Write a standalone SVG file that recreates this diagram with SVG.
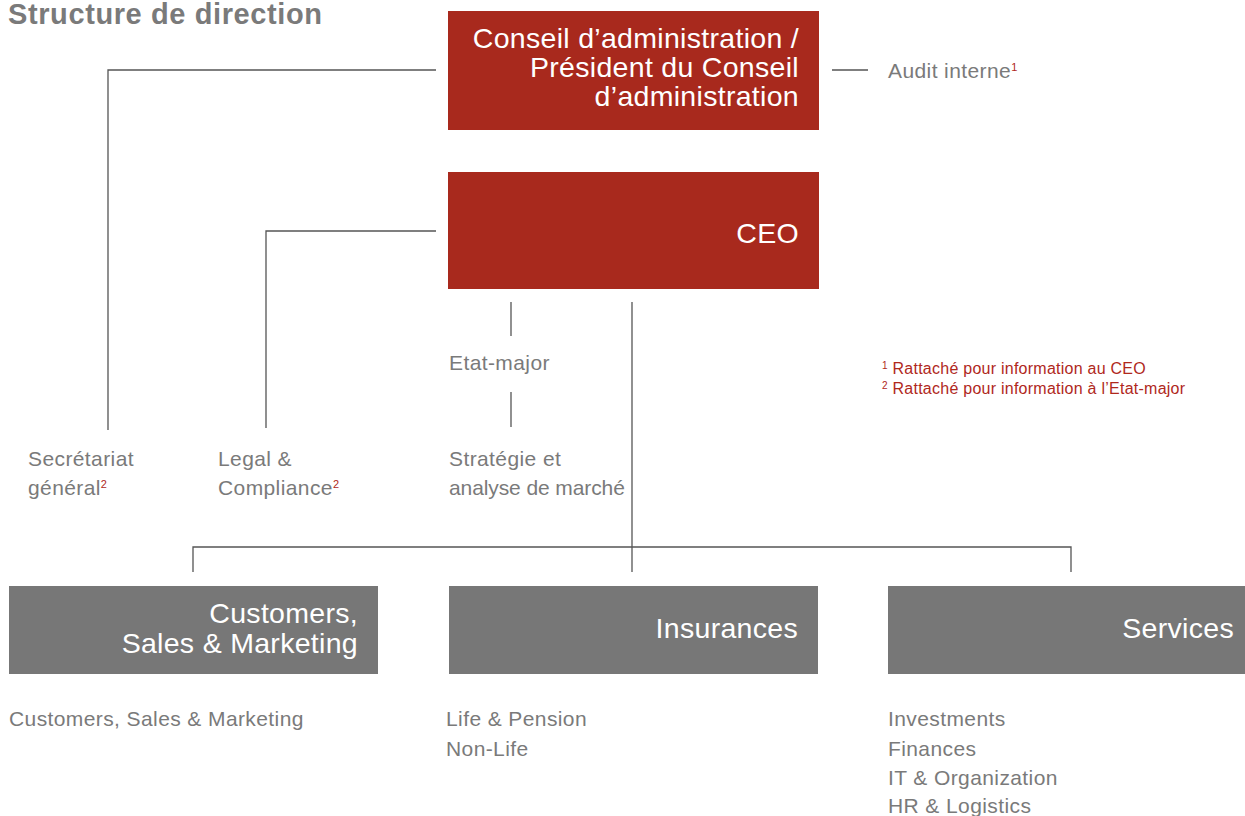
<svg xmlns="http://www.w3.org/2000/svg" width="1245" height="816" viewBox="0 0 1245 816">
<style>
.red{fill:#a8291d}
.gray{fill:#777777}
.bt{font-family:"Liberation Sans",Arial,sans-serif;font-size:28.5px;letter-spacing:0.3px;fill:#ffffff;text-anchor:end}
.lb{font-family:"Liberation Sans",Arial,sans-serif;font-size:21px;letter-spacing:0.4px;fill:#7a7a7a}
.sup{font-size:11px;fill:#b0281c;letter-spacing:0}
.fn{font-family:"Liberation Sans",Arial,sans-serif;font-size:16px;letter-spacing:0.25px;fill:#b0281c}
.fns{font-size:10px}
.ln{stroke:#555555;stroke-width:1.3;fill:none}
</style>
<rect width="1245" height="816" fill="#ffffff"/>
<text x="8" y="24" font-family="Liberation Sans,Arial,sans-serif" font-size="29" letter-spacing="0.6" font-weight="bold" fill="#7a7a7a">Structure de direction</text>
<g id="connectors">
<path class="ln" d="M108 430 V70 H436"/>
<path class="ln" d="M266 428 V231 H436"/>
<path class="ln" d="M832 70 H868"/>
<path class="ln" d="M511 302 V336"/>
<path class="ln" d="M511 392 V427"/>
<path class="ln" d="M632 302 V572"/>
<path class="ln" d="M193 572 V547 H1071 V572"/>
</g>
<g id="board">
<rect class="red" x="448" y="11" width="371" height="119"/>
<text class="bt" x="799" y="48">Conseil d’administration /</text>
<text class="bt" x="799" y="77">Président du Conseil</text>
<text class="bt" x="799" y="106">d’administration</text>
</g>
<g id="audit">
<text class="lb" x="888" y="78">Audit interne<tspan class="sup" dy="-7">1</tspan></text>
</g>
<g id="ceo">
<rect class="red" x="448" y="172" width="371" height="117"/>
<text class="bt" x="799" y="243">CEO</text>
</g>
<g id="etatmajor">
<text class="lb" x="449" y="370">Etat-major</text>
</g>
<g id="footnotes">
<text class="fn" x="882" y="374"><tspan class="fns" dy="-5">1</tspan><tspan dy="5"> Rattaché pour information au CEO</tspan></text>
<text class="fn" x="882" y="394"><tspan class="fns" dy="-5">2</tspan><tspan dy="5"> Rattaché pour information à l’Etat-major</tspan></text>
</g>
<g id="secretariat">
<text class="lb" x="28" y="466">Secrétariat</text>
<text class="lb" x="28" y="495">général<tspan class="sup" dy="-7">2</tspan></text>
</g>
<g id="legal">
<text class="lb" x="218" y="466">Legal &amp;</text>
<text class="lb" x="218" y="495">Compliance<tspan class="sup" dy="-7">2</tspan></text>
</g>
<g id="strategie">
<text class="lb" x="449" y="466">Stratégie et</text>
<text class="lb" x="449" y="495" style="letter-spacing:-0.1px">analyse de marché</text>
</g>
<g id="customers">
<rect class="gray" x="9" y="586" width="369" height="88"/>
<text class="bt" x="358" y="623">Customers,</text>
<text class="bt" x="358" y="653">Sales &amp; Marketing</text>
<text class="lb" x="9" y="726">Customers, Sales &amp; Marketing</text>
</g>
<g id="insurances">
<rect class="gray" x="449" y="586" width="369" height="88"/>
<text class="bt" x="798" y="638">Insurances</text>
<text class="lb" x="446" y="726">Life &amp; Pension</text>
<text class="lb" x="446" y="756">Non-Life</text>
</g>
<g id="services">
<rect class="gray" x="888" y="586" width="357" height="88"/>
<text class="bt" x="1234" y="638">Services</text>
<text class="lb" x="888" y="726">Investments</text>
<text class="lb" x="888" y="756">Finances</text>
<text class="lb" x="888" y="785">IT &amp; Organization</text>
<text class="lb" x="888" y="813">HR &amp; Logistics</text>
</g>
</svg>
